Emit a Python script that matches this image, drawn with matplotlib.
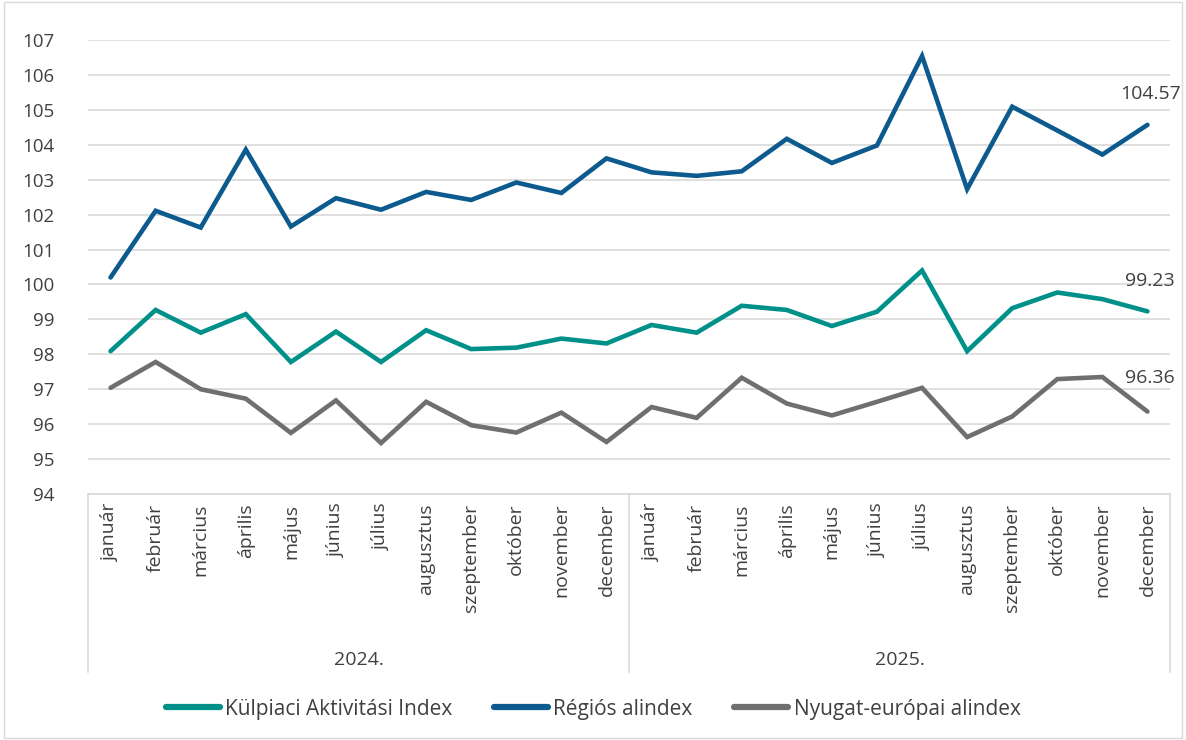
import matplotlib
matplotlib.use("Agg")
import matplotlib.pyplot as plt
import matplotlib.transforms as mtransforms
from matplotlib.patches import Rectangle

months = ["január", "február", "március", "április", "május", "június", "július",
          "augusztus", "szeptember", "október", "november", "december"]
years = ["2024.", "2025."]
categories = months + months

kulpiaci = [98.09, 99.27, 98.62, 99.15, 97.78, 98.65, 97.78, 98.69, 98.15, 98.19, 98.45, 98.31,
            98.84, 98.62, 99.39, 99.27, 98.81, 99.22, 100.40, 98.09, 99.32, 99.77, 99.58, 99.23]
regios = [100.20, 102.11, 101.63, 103.86, 101.66, 102.47, 102.14, 102.65, 102.42, 102.92, 102.62, 103.61,
          103.21, 103.11, 103.24, 104.17, 103.48, 103.98, 106.54, 102.73, 105.09, 104.41, 103.72, 104.57]
nyugat = [97.04, 97.78, 97.00, 96.73, 95.75, 96.68, 95.46, 96.64, 95.97, 95.76, 96.33, 95.49,
          96.49, 96.18, 97.33, 96.59, 96.25, 96.64, 97.04, 95.63, 96.22, 97.29, 97.35, 96.36]

series_names = ["Külpiaci Aktivitási Index", "Régiós alindex", "Nyugat-európai alindex"]
colors = ["#00908A", "#0C5A8E", "#6F6F6F"]

plt.rcParams['font.family'] = ['Open Sans', 'DejaVu Sans']
text_color = "#404040"

fig = plt.figure(figsize=(11.86, 7.4), dpi=100)
ax = fig.add_axes([88/1186, 1-494/740, (1170-88)/1186, (494-40)/740])

x = list(range(len(categories)))
for vals, name, col in zip([kulpiaci, regios, nyugat], series_names, colors):
    ax.plot(x, vals, color=col, lw=3.3, label=name, solid_joinstyle='miter',
            solid_capstyle='round', zorder=3)

ax.set_xlim(-0.5, len(categories) - 0.5)
ax.set_ylim(94, 107)
ax.set_yticks(range(94, 108))
ax.tick_params(axis='y', length=0, labelsize=13.5, labelcolor=text_color, pad=24)
ax.grid(axis='y', color='#D9D9D9', lw=1.2, zorder=0)
for s in ['top', 'right', 'left']:
    ax.spines[s].set_visible(False)
ax.spines['bottom'].set_color('#D9D9D9')
ax.spines['bottom'].set_linewidth(1.2)

ax.set_xticks(x)
ax.set_xticklabels(categories, rotation=90, fontsize=14, color=text_color)
ax.tick_params(axis='x', length=0, pad=7)

# year group separators and labels
trans = mtransforms.blended_transform_factory(ax.transData, ax.transAxes)
for bx in [-0.5, 11.5, 23.5]:
    ax.plot([bx, bx], [0, -0.393], transform=trans, color='#D9D9D9', lw=1.2, clip_on=False)
for i, yr in enumerate(years):
    ax.text(5.5 + 12 * i, -0.366, yr, transform=trans, ha='center', va='center',
            fontsize=14, color=text_color)

# end labels
last = len(categories) - 1
ax.annotate(f"{regios[-1]:.2f}", (last, regios[-1]), xytext=(2, 22), textcoords='offset points',
            ha='center', va='center', fontsize=14, color=text_color)
ax.annotate(f"{kulpiaci[-1]:.2f}", (last, kulpiaci[-1]), xytext=(2, 22), textcoords='offset points',
            ha='center', va='center', fontsize=14, color=text_color)
ax.annotate(f"{nyugat[-1]:.2f}", (last, nyugat[-1]), xytext=(2, 24), textcoords='offset points',
            ha='center', va='center', fontsize=14, color=text_color)

leg = fig.legend(loc='center', bbox_to_anchor=(0.5, 1-709/740), ncol=3, frameon=False,
                 fontsize=15, handlelength=2.6, handletextpad=0.25, columnspacing=2.0)
for t in leg.get_texts():
    t.set_color(text_color)
for h in leg.get_lines():
    h.set_linewidth(4.5)

fig.patches.append(Rectangle((0.003, 0.003), 0.994, 0.994, transform=fig.transFigure,
                             fill=False, edgecolor='#D9D9D9', lw=1))

fig.savefig("out.png", dpi=100, facecolor='white')
